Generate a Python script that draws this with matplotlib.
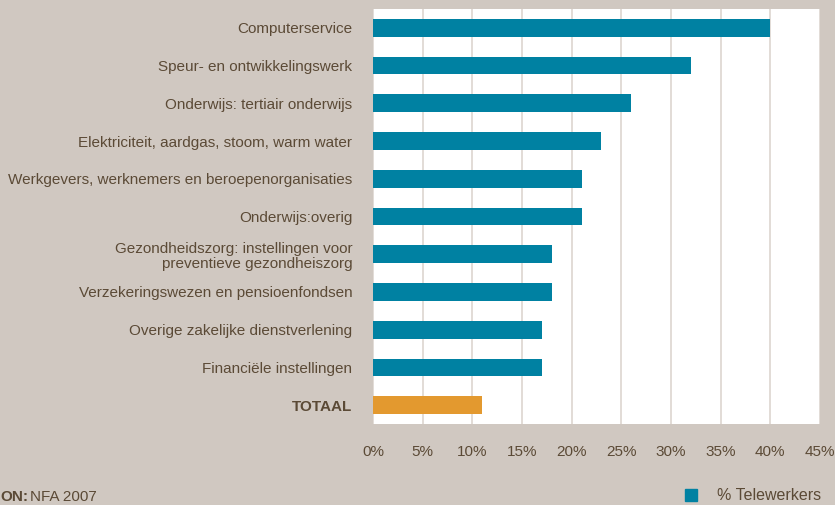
#!/usr/bin/env python3
import matplotlib
matplotlib.use('Agg')
import matplotlib.pyplot as plt
from matplotlib.lines import Line2D

sectors = ['Computerservice',
	'Speur- en ontwikkelingswerk',
	'Onderwijs: tertiair onderwijs',
	'Elektriciteit, aardgas, stoom, warm water',
	'Werkgevers, werknemers en beroepenorganisaties',
	'Onderwijs:overig',
	'Gezondheidszorg: instellingen voor\npreventieve gezondheiszorg',
	'Verzekeringswezen en pensioenfondsen',
	'Overige zakelijke dienstverlening',
	'Financiële instellingen',
	'TOTAAL']
telewerkers = [40, 32, 26, 23, 21, 21, 18, 18, 17, 17, 11]
xticks = [0, 5, 10, 15, 20, 25, 30, 35, 40, 45]

bg = '#d0c8c1'
teal = '#0081a2'
orange = '#e3992f'
txt = '#5b4a36'

plt.rcParams['font.family'] = ['Liberation Sans', 'DejaVu Sans']

fig = plt.figure(figsize=(8.35, 5.05), dpi=100, facecolor=bg)
ax = fig.add_axes([373 / 835, 81 / 505, 447 / 835, 415 / 505])
ax.set_facecolor('white')

colors = [teal] * (len(sectors) - 1) + [orange]
ax.barh(range(len(sectors)), telewerkers, height=0.47, color=colors, zorder=3)

ax.set_xlim(0, 45)
ax.set_ylim(len(sectors) - 0.5, -0.5)
ax.set_xticks(xticks)
ax.set_xticklabels([f'{v}%' for v in xticks])
ax.set_yticks(range(len(sectors)))
ax.set_yticklabels(sectors, ha='right', linespacing=1.15)
for lab in ax.get_yticklabels():
	if lab.get_text() == 'TOTAAL':
		lab.set_fontweight('bold')

ax.tick_params(axis='both', length=0, colors=txt, labelsize=11)
ax.tick_params(axis='y', pad=15)
ax.tick_params(axis='x', pad=15)
ax.grid(axis='x', color='#ddd6d0', linewidth=1.2, zorder=0)
for s in ax.spines.values():
	s.set_visible(False)
# laatste ticklabel iets naar links zodat hij niet wordt afgesneden
ax.get_xticklabels()[-1].set_ha('center')

# bron, links onder
fig.text(0.0, 0.002, 'ON:', fontsize=11, color=txt, fontweight='bold', va='bottom', ha='left')
fig.text(30 / 835, 0.002, 'NFA 2007', fontsize=11, color=txt, va='bottom', ha='left')

# legenda
leg_handle = Line2D([], [], marker='s', linestyle='none', markersize=8,
	markerfacecolor=teal, markeredgecolor=teal)
fig.legend([leg_handle], ['% Telewerkers'], loc='lower right', bbox_to_anchor=(1.0, -0.025),
	frameon=False, fontsize=11.5, labelcolor=txt, handletextpad=0.6)

plt.savefig('out.png', dpi=100, facecolor=bg)
